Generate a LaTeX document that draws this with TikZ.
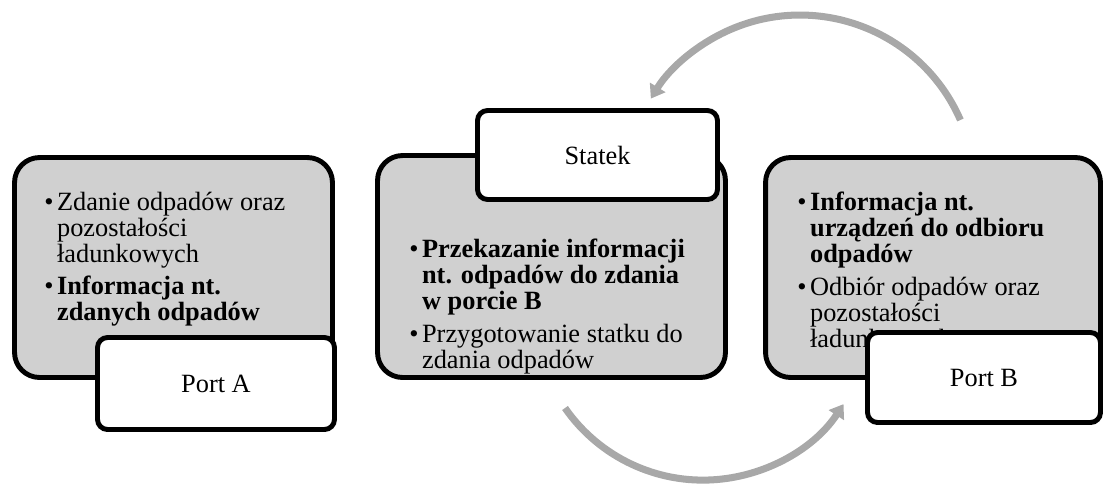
\documentclass[tikz,border=0pt]{standalone}
\usepackage{fontspec}
\setmainfont{Liberation Serif}
\usetikzlibrary{arrows.meta}
\definecolor{boxgray}{HTML}{D0D0D0}
\definecolor{arcgray}{HTML}{A8A8A8}
\tikzset{
  grybox/.style ={draw, rounded corners=0.5cm, fill=boxgray,
                  line width=2.8pt, inner sep=0pt},
  tagbox/.style ={draw, rounded corners=0.2cm, fill=white,
                  line width=2.8pt, inner sep=0pt,
                  font=\fontsize{15}{15}\selectfont},
  blist/.style  ={anchor=base west, inner sep=0pt,
                  font=\fontsize{15}{15}\selectfont},
  cyc/.style    ={-{Triangle[length=7.5pt,width=10pt]}, line width=4pt,
                  arcgray},
}

\begin{document}
\begin{tikzpicture}[x=0.02cm, y=0.02cm]
  \useasboundingbox (0,0) rectangle (1105,-484);
  % ---- gray content boxes
  \node[grybox, minimum width=6.36cm, minimum height=4.40cm] (ga) at (173.5,-267.5) {};
  \node[grybox, minimum width=6.96cm, minimum height=4.44cm] (gb) at (551.5,-266.5) {};
  \node[grybox, minimum width=6.70cm, minimum height=4.40cm] (gc) at (933,-267.5) {};
  % ---- bullet texts
  \node[blist] (la) at (44,-210) {\begin{tabular}[t]{@{}l@{\hspace{2pt}}l@{}}
    • & Zdanie odpadów oraz\\
      & pozostałości\\
      & ładunkowych\\[3pt]
    • & \textbf{Informacja nt.}\\
      & \textbf{zdanych odpadów}
  \end{tabular}};
  \node[blist] (lb) at (409,-257) {\begin{tabular}[t]{@{}l@{\hspace{2pt}}l@{}}
    • & \textbf{Przekazanie informacji}\\
      & \textbf{nt. odpadów do zdania}\\
      & \textbf{w porcie B}\\[3.5pt]
    • & Przygotowanie statku do\\
      & zdania odpadów
  \end{tabular}};
  \node[blist] (lc) at (797,-210) {\begin{tabular}[t]{@{}l@{\hspace{2pt}}l@{}}
    • & \textbf{Informacja nt.}\\
      & \textbf{urządzeń do odbioru}\\
      & \textbf{odpadów}\\[3.5pt]
    • & Odbiór odpadów oraz\\
      & pozostałości\\
      & ładunkowych
  \end{tabular}};
  % ---- white name tags
  \node[tagbox, minimum width=4.74cm, minimum height=1.84cm] (pa) at (216,-383.5) {Port A};
  \node[tagbox, minimum width=4.80cm, minimum height=1.78cm] (st) at (597.5,-155) {Statek};
  \node[tagbox, minimum width=4.66cm, minimum height=1.80cm] (pb) at (984,-377.5) {Port B};
  % ---- cycle arrows
  \coordinate (topS) at (960.4,-120);
  \coordinate (botS) at (565,-408);
  \draw[cyc] (topS) arc[start angle=23.6, end angle=148.5, radius=175];
  \draw[cyc] (botS) arc[start angle=214.8, end angle=326.8, radius=168];
\end{tikzpicture}
\end{document}
